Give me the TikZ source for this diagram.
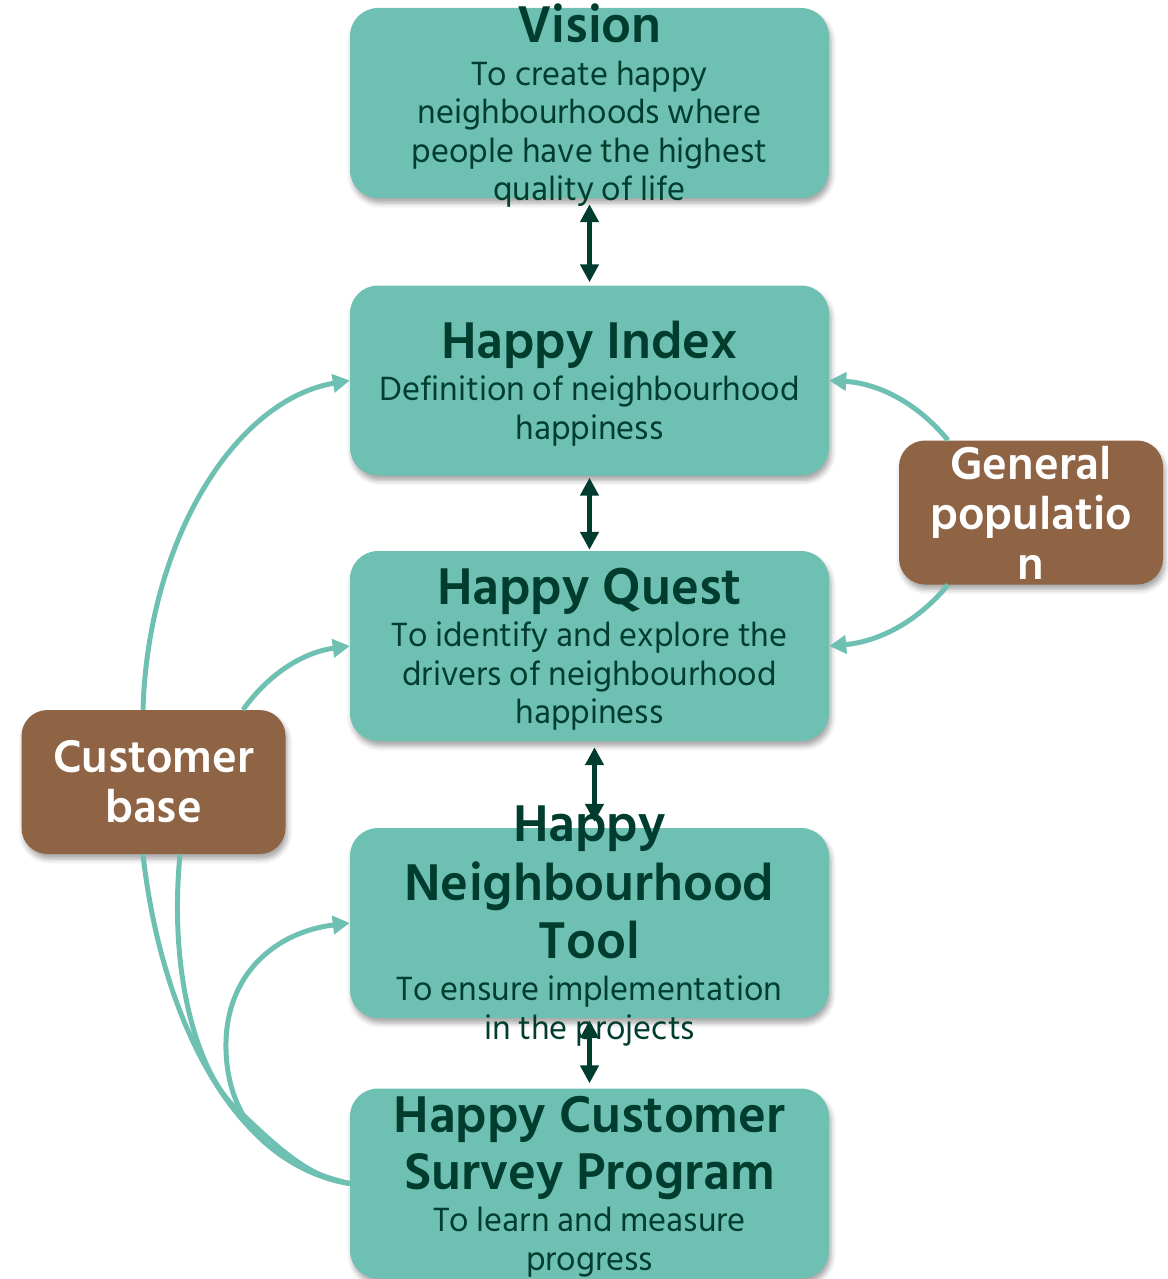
\documentclass[tikz,border=0pt]{standalone}
\usepackage{fontspec}
\setmainfont{Hind Siliguri}
\usepackage{tikz}
\usetikzlibrary{positioning,arrows.meta,shadows.blur}

\definecolor{stageteal}{HTML}{6EC1B2}
\definecolor{stagedark}{HTML}{003D2E}
\definecolor{groupbrown}{HTML}{8F6445}

\newcommand{\headfont}{\fontsize{53}{57}\selectfont\bfseries}
\newcommand{\bodyfont}{\fontsize{34.5}{38.5}\selectfont}

\begin{document}
\begin{tikzpicture}[x=1pt, y=-1pt,
    stage/.style={rectangle, rounded corners=28pt, fill=stageteal,
        minimum width=479pt, minimum height=190pt,
        blur shadow={shadow xshift=2pt, shadow yshift=-5pt, shadow blur radius=5pt, shadow opacity=35}},
    stagetext/.style={align=center, text=stagedark, font=\bodyfont},
    group/.style={rectangle, rounded corners=26pt, fill=groupbrown,
        minimum width=264pt, minimum height=144pt,
        blur shadow={shadow xshift=2pt, shadow yshift=-5pt, shadow blur radius=5pt, shadow opacity=35}},
    grouptext/.style={align=center, text=white, font=\fontsize{47}{50}\selectfont\bfseries},
    feed/.style={draw=stageteal, line width=5pt, -{Triangle[width=18pt,length=17pt]}},
    tie/.style={draw=stageteal, line width=5pt},
    pair/.style={draw=stagedark, line width=5pt, {Triangle[width=18pt,length=18pt]}-{Triangle[width=18pt,length=18pt]}}]
    \useasboundingbox (0,0) rectangle (1167,1279);

    % the five stages, top to bottom
    \node [stage] (vision) at (589.5,103) {};
    \node [stage, below of=vision, node distance=277.5pt] (index) {};
    \node [stage, below of=index, node distance=265.5pt] (quest) {};
    \node [stage, below of=quest, node distance=277pt] (tool) {};
    \node [stage, below of=tool, node distance=260.5pt] (survey) {};

    % the two groups at the sides
    \node [group] (cb) at (153.5,782) {};
    \node [group] (gp) at (1031,512.5) {};

    % links from the groups into the stages
    \draw [feed] (cb.north -| 143,0) .. controls (148,540) and (235,400) .. (index.west);
    \draw [feed] (cb.north -| 243,0) .. controls (270,672) and (305,652) .. (quest.west);
    \draw [feed] (gp.north -| 948,0) .. controls (915,400) and (875,383) .. (index.east);
    \draw [feed] (gp.south -| 948,0) .. controls (915,625) and (875,642) .. (quest.east);
    \draw [tie] (cb.south -| 143,0) .. controls (160,1010) and (230,1165) .. (survey.west);
    \draw [tie] (cb.south -| 180,0) .. controls (168,980) and (200,1080) .. (240,1112)
        .. controls (280,1150) and (310,1178) .. (survey.west);
    \draw [feed] (survey.west) .. controls (270,1165) and (228,1120) .. (226,1050)
        .. controls (224,975) and (275,932) .. (tool.west);

    % texts
    \node [stagetext] (vision-txt) at ([yshift=-3pt]vision) {\headfont Vision\\[4pt]To create happy\\neighbourhoods where\\people have the highest\\quality of life};
    \node [stagetext] (index-txt) at ([yshift=-3pt]index) {\headfont Happy Index\\[4pt]Definition of neighbourhood\\happiness};
    \node [stagetext] (quest-txt) at ([yshift=-3pt]quest) {\headfont Happy Quest\\[4pt]To identify and explore the\\drivers of neighbourhood\\happiness};
    \node [stagetext] (tool-txt) at ([yshift=-3pt]tool) {\headfont Happy\\[9pt]\headfont Neighbourhood\\[9pt]\headfont Tool\\[4pt]To ensure implementation\\in the projects};
    \node [stagetext] (survey-txt) at ([yshift=-3pt]survey) {\headfont Happy Customer\\[10pt]\headfont Survey Program\\[4pt]To learn and measure\\progress};
    \node [grouptext] (cb-txt) at (cb) {Customer\\base};
    \node [grouptext] (gp-txt) at (gp) {General\\populatio\\n};

    % stage to stage
    \draw [pair, shorten <=6pt, shorten >=3pt] (vision.south) -- (index.north);
    \draw [pair, shorten <=2pt, shorten >=1pt] (index.south) -- (quest.north);
    \draw [pair, shorten <=6pt, shorten >=6pt] ([xshift=5pt]quest.south) -- ([xshift=5pt]tool.north);
    \draw [pair, shorten <=2pt, shorten >=5pt] (tool.south) -- (survey.north);
\end{tikzpicture}
\end{document}
